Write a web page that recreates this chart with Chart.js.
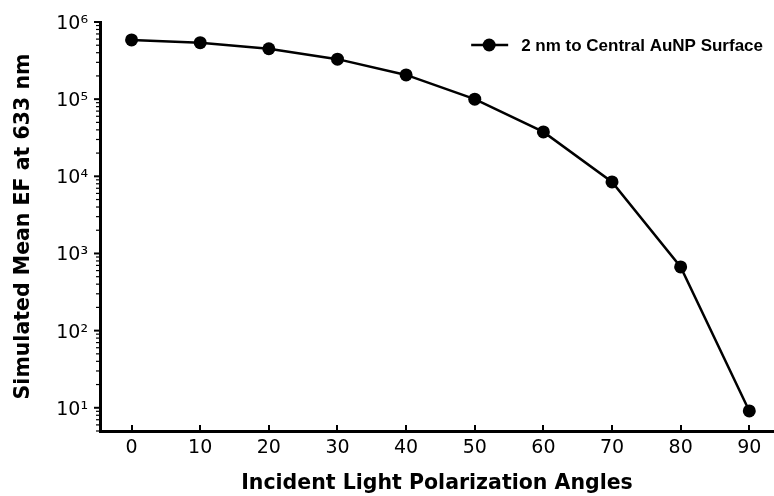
<!DOCTYPE html>
<html>
<head>
<meta charset="utf-8">
<script src="https://cdn.jsdelivr.net/npm/chart.js@4"></script>
<style>
  html, body { margin: 0; padding: 0; background: #fff; }
  #wrap { width: 774px; height: 496px; }
</style>
</head>
<body>
<div id="wrap"><canvas id="efChart"></canvas></div>
<script>
// polarization angle (deg) vs simulated mean enhancement factor
const angles = [0, 10, 20, 30, 40, 50, 60, 70, 80, 90];
const meanEF = [585000, 540000, 450000, 330000, 206000, 100000, 37600, 8450, 670, 9.1];
const xTickValues = [0, 10, 20, 30, 40, 50, 60, 70, 80, 90];
const yTickLabels = { 1: '10¹', 2: '10²', 3: '10³', 4: '10⁴', 5: '10⁵', 6: '10⁶' };
const seriesName = '2 nm to Central AuNP Surface';

const points = angles.map((a, i) => ({ x: a, y: meanEF[i] }));

// matplotlib-ish ticks: x ticks point inward, y ticks outward with log minors
const axisTicks = {
  id: 'axisTicks',
  afterDraw(chart) {
    const { ctx } = chart;
    const x = chart.scales.x, y = chart.scales.y;
    ctx.save();
    ctx.strokeStyle = '#000';
    ctx.lineCap = 'butt';
    ctx.lineWidth = 2;
    xTickValues.forEach(v => {
      const px = Math.round(x.getPixelForValue(v));
      ctx.beginPath();
      ctx.moveTo(px, x.top);
      ctx.lineTo(px, x.top - 6);
      ctx.stroke();
    });
    for (let e = 0; e <= 6; e++) {
      for (let m = 1; m <= 9; m++) {
        const v = m * Math.pow(10, e);
        if (v < y.min || v > y.max * 1.0001) continue;
        const py = y.getPixelForValue(v);
        const major = m === 1;
        ctx.lineWidth = major ? 2 : 1.2;
        ctx.beginPath();
        ctx.moveTo(y.right - 1, py);
        ctx.lineTo(y.right - (major ? 6 : 4), py);
        ctx.stroke();
      }
    }
    ctx.restore();
  }
};

// legend box: short line with marker, then the series name
const lineLegend = {
  id: 'lineLegend',
  afterDraw(chart) {
    const { ctx, chartArea } = chart;
    ctx.save();
    ctx.font = 'bold 17px "Liberation Sans", Arial, sans-serif';
    const tw = ctx.measureText(seriesName).width;
    const tx = chartArea.right - 11 - tw;
    const ty = chartArea.top + 23;
    ctx.strokeStyle = '#000';
    ctx.lineWidth = 2.5;
    ctx.beginPath();
    ctx.moveTo(tx - 50, ty);
    ctx.lineTo(tx - 13, ty);
    ctx.stroke();
    ctx.fillStyle = '#000';
    ctx.beginPath();
    ctx.arc(tx - 32, ty, 6.5, 0, Math.PI * 2);
    ctx.fill();
    ctx.textBaseline = 'middle';
    ctx.textAlign = 'left';
    ctx.fillText(seriesName, tx, ty + 1);
    ctx.restore();
  }
};

new Chart(document.getElementById('efChart'), {
  type: 'line',
  data: {
    datasets: [{
      label: seriesName,
      data: points,
      borderColor: '#000',
      backgroundColor: '#000',
      borderWidth: 2.5,
      pointRadius: 6.5,
      pointBorderWidth: 0,
      pointBackgroundColor: '#000',
      tension: 0,
      clip: false
    }]
  },
  options: {
    responsive: true,
    maintainAspectRatio: false,
    animation: false,
    layout: { autoPadding: false, padding: { top: 22, right: 0, bottom: 0, left: 0 } },
    plugins: {
      legend: { display: false },
      tooltip: { enabled: false }
    },
    scales: {
      x: {
        type: 'linear',
        min: -4.6,
        max: 93.6,
        afterFit: s => { s.height = 65; s.paddingLeft = 0; s.paddingRight = 0; },
        afterBuildTicks: s => { s.ticks = xTickValues.map(v => ({ value: v })); },
        grid: { display: false, drawTicks: false },
        border: { display: true, color: '#000', width: 3 },
        ticks: {
          padding: 6,
          color: '#000',
          font: { family: '"DejaVu Sans"', size: 19 }
        },
        title: {
          display: true,
          text: 'Incident Light Polarization Angles',
          color: '#000',
          font: { family: '"DejaVu Sans"', size: 20.5, weight: 'bold' },
          padding: { top: 0, bottom: 0 }
        }
      },
      y: {
        type: 'logarithmic',
        min: 5,
        max: 1e6,
        afterFit: s => { s.width = 100; s.paddingTop = 0; s.paddingBottom = 0; },
        afterBuildTicks: s => {
          s.ticks = Object.keys(yTickLabels).map(e => ({ value: Math.pow(10, +e) }));
        },
        grid: { display: false, drawTicks: false },
        border: { display: true, color: '#000', width: 3 },
        ticks: {
          padding: 12,
          labelOffset: 2,
          color: '#000',
          font: { family: '"DejaVu Sans"', size: 19 },
          callback: v => yTickLabels[Math.round(Math.log10(v))]
        },
        title: {
          display: true,
          text: 'Simulated Mean EF at 633 nm',
          color: '#000',
          font: { family: '"DejaVu Sans"', size: 20.5, weight: 'bold' },
          padding: { top: 11, bottom: 0 }
        }
      }
    }
  },
  plugins: [axisTicks, lineLegend]
});
</script>
</body>
</html>
